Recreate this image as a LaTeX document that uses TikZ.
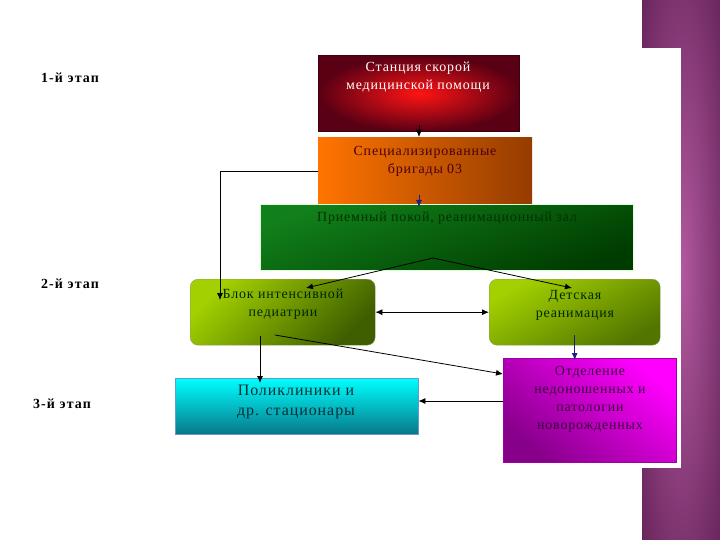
\documentclass[tikz,border=0pt]{standalone}
\usepackage{fontspec}
\setmainfont{Liberation Serif}
\newfontfamily\boxfont[LetterSpace=6]{Liberation Serif}
\newfontfamily\stagefont[LetterSpace=8]{Liberation Serif}
\usetikzlibrary{arrows.meta,calc}

\definecolor{stripdark}{HTML}{4A1040}
\definecolor{stripmid}{HTML}{B2599F}
\definecolor{stdark}{HTML}{5A0014}
\definecolor{stred}{HTML}{FF1414}
\definecolor{orl}{HTML}{FF7400}
\definecolor{orr}{HTML}{953C00}
\definecolor{grtop}{HTML}{11801A}
\definecolor{grbot}{HTML}{003C00}
\definecolor{ollight}{HTML}{A2D000}
\definecolor{oldark}{HTML}{3E5E00}
\definecolor{cytop}{HTML}{00FFFF}
\definecolor{cybot}{HTML}{07788A}
\definecolor{mglight}{HTML}{FF00FF}
\definecolor{mgdark}{HTML}{86008A}
\definecolor{arrblue}{HTML}{1E1E82}

\pgfdeclareradialshading{stripglow}{\pgfpoint{0bp}{0bp}}{color(0bp)=(stripmid); color(50bp)=(stripdark)}

\begin{document}
\begin{tikzpicture}[x=1bp,y=-1bp, every node/.style={font=\boxfont\fontsize{14}{18}\selectfont},
  box/.style={inner sep=0pt,anchor=north west},
  txt/.style={align=center,inner sep=1pt},
  stage/.style={font=\stagefont\bfseries\fontsize{14}{16}\selectfont},
  arr/.style={-{Latex[length=7bp,width=6bp]},line width=0.8pt},
  barr/.style={arr,draw=arrblue}]
\useasboundingbox (0,0) rectangle (720,540);
\fill[white] (0,0) rectangle (720,540);
\shade[shading=stripglow] (642,0) rectangle (720,540);
\fill[white] (600,48) rectangle (681,468);

% 1-st stage
\node[box,minimum width=201bp,minimum height=76bp,draw=stdark!70!black,line width=1pt,
  shading=radial,inner color=stred,outer color=stdark] (st) at (318,55) {};
\node[txt,text=white] (sttxt) at (418,77) {Станция скорой\\медицинской помощи};
\node[box,minimum width=214bp,minimum height=68bp,left color=orl,right color=orr] (brig) at (318,137) {};
\node[txt,text=stdark!80!black] (brigtxt) at (425,161) {Специализированные\\бригады 03};
\node[box,minimum width=373bp,minimum height=66bp,draw=white!85!green,
  top color=grtop,bottom color=grbot,shading angle=20] (green) at (260,204) {};
\node[txt,text=black!80!green] (greentxt) at (447,218) {Приемный покой, реанимационный зал};

% 2-nd stage
\node[box,minimum width=185bp,minimum height=66bp,rounded corners=8bp,draw=oldark!60,
  top color=ollight,bottom color=oldark,shading angle=45] (blok) at (190,279) {};
\node[txt,text=black!85!green] (bloktxt) at (283,304) {Блок интенсивной\\педиатрии};
\node[box,minimum width=171bp,minimum height=66bp,rounded corners=8bp,draw=oldark!60,
  top color=ollight,bottom color=oldark!80!ollight,shading angle=30] (det) at (489,279) {};
\node[txt,text=black!85!green] (dettxt) at (575,305) {Детская\\реанимация};

% 3-rd stage
\node[box,minimum width=243bp,minimum height=56bp,draw=cybot!70!blue!60,
  top color=cytop,bottom color=cybot] (poli) at (175,378) {};
\node[txt,text=cybot!40!black,font=\boxfont\fontsize{16}{20}\selectfont] (politxt) at (296,402) {Поликлиники и\\др. стационары};
\node[box,minimum width=173bp,minimum height=104bp,draw=mgdark!80!mglight,
  top color=mglight,bottom color=mgdark,shading angle=-40] (otd) at (503,358) {};
\node[txt,text=mgdark!45!black] (otdtxt) at (590,399) {Отделение\\недоношенных и\\патологии\\новорожденных};

\node[stage] (e1) at (70,78) {1-й этап};
\node[stage] (e2) at (70,284) {2-й этап};
\node[stage] (e3) at (62,404) {3-й этап};

\coordinate (bkin) at (220,300);
\coordinate (gsp) at (433,258);
\coordinate (bkin2) at (306,288);
\coordinate (dtin) at (572,288);
\coordinate (bkout) at (260,336);
\coordinate (bkout2) at (275,335);
\coordinate (ret) at (503,401);

\draw[arr] ([yshift=7bp]st.south) -- (st.south |- brig.north);
\draw[barr] ([yshift=10bp]st.south |- brig.south) -- ([yshift=-3bp]st.south |- green.north);
\draw[arr] (brig.west) -| (bkin);
\draw[arr] (gsp) -- (bkin2);
\draw[arr] (gsp) -- (dtin);
\draw[{Latex[length=7bp,width=6bp]}-{Latex[length=7bp,width=6bp]},line width=0.8pt] (blok.east) -- (det.west);
\draw[arr] (bkout) -- ([yshift=-5bp]bkout |- poli.north);
\draw[arr] (bkout2) -- ($(otd.north west)+(0,16)$);
\draw[barr] ([yshift=10bp]det.south) -- ([yshift=-2bp]det.south |- otd.north);
\draw[arr] (ret) -- (ret -| poli.east);
\end{tikzpicture}
\end{document}
